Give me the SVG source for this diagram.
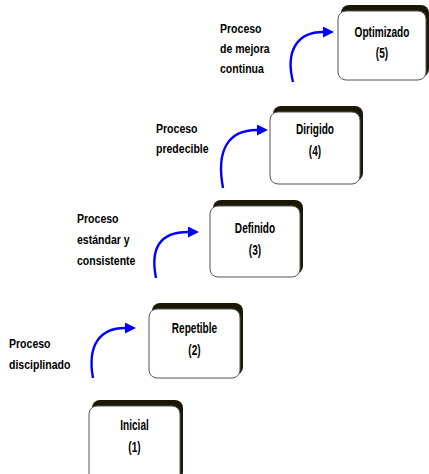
<svg xmlns="http://www.w3.org/2000/svg" width="429" height="474" viewBox="0 0 429 474">
<style>
.sh{fill:#1a1805;}
.bx{fill:#ffffff;stroke:#555555;stroke-width:1;}
.bt{font-family:"Liberation Sans",Arial,sans-serif;font-weight:bold;font-size:14px;fill:#000;text-anchor:middle;}
.lb{font-family:"Liberation Sans",Arial,sans-serif;font-weight:bold;font-size:13.5px;fill:#000;}
.ar{fill:none;stroke:#0000ff;stroke-width:2.4;marker-end:url(#ah);}
</style>
<defs>
<marker id="ah" markerUnits="userSpaceOnUse" markerWidth="11" markerHeight="11" refX="0" refY="5" orient="auto" viewBox="0 0 10 10">
<path d="M0,0 L10,5 L0,10 z" fill="#0000ff"/>
</marker>
</defs>
<rect width="429" height="474" fill="#ffffff"/>
<g id="connectors">
<path class="ar" d="M93,378 C87,345 100,328 125,328"/>
<path class="ar" d="M156,278 C150,248 160,232 188,232"/>
<path class="ar" d="M223,188 C216,150 228,130 257,130"/>
<path class="ar" d="M293,82 C285,50 298,32 323,32"/>
</g>
<g id="node1">
<rect class="sh" x="92" y="400" width="91" height="80" rx="8"/>
<rect class="bx" x="89" y="406" width="91" height="78" rx="8"/>
<text class="bt" transform="translate(134.5,430) scale(0.72,1)"><tspan x="0">Inicial</tspan><tspan x="0" dy="22">(1)</tspan></text>
</g>
<g id="node2">
<rect class="sh" x="152" y="303" width="91" height="72" rx="8"/>
<rect class="bx" x="149" y="309" width="91" height="69" rx="8"/>
<text class="bt" transform="translate(194.5,333) scale(0.72,1)"><tspan x="0">Repetible</tspan><tspan x="0" dy="22">(2)</tspan></text>
</g>
<g id="node3">
<rect class="sh" x="213" y="200" width="90" height="74" rx="8"/>
<rect class="bx" x="210" y="206" width="90" height="71" rx="8"/>
<text class="bt" transform="translate(255,233) scale(0.72,1)"><tspan x="0">Definido</tspan><tspan x="0" dy="22">(3)</tspan></text>
</g>
<g id="node4">
<rect class="sh" x="273" y="106" width="90" height="75" rx="8"/>
<rect class="bx" x="270" y="112" width="90" height="72" rx="8"/>
<text class="bt" transform="translate(315,134) scale(0.72,1)"><tspan x="0">Dirigido</tspan><tspan x="0" dy="22">(4)</tspan></text>
</g>
<g id="node5">
<rect class="sh" x="341" y="5" width="88" height="72" rx="8"/>
<rect class="bx" x="338" y="11" width="88" height="69" rx="8"/>
<text class="bt" transform="translate(382,37) scale(0.72,1)"><tspan x="0">Optimizado</tspan><tspan x="0" dy="21">(5)</tspan></text>
</g>
<g id="label1">
<text class="lb" transform="translate(9,348) scale(0.78,1)"><tspan x="0">Proceso</tspan><tspan x="0" dy="21">disciplinado</tspan></text>
</g>
<g id="label2">
<text class="lb" transform="translate(77,223) scale(0.78,1)"><tspan x="0">Proceso</tspan><tspan x="0" dy="21">estándar y</tspan><tspan x="0" dy="21">consistente</tspan></text>
</g>
<g id="label3">
<text class="lb" transform="translate(156,133) scale(0.78,1)"><tspan x="0">Proceso</tspan><tspan x="0" dy="20">predecible</tspan></text>
</g>
<g id="label4">
<text class="lb" transform="translate(220,33) scale(0.78,1)"><tspan x="0">Proceso</tspan><tspan x="0" dy="20">de mejora</tspan><tspan x="0" dy="20">continua</tspan></text>
</g>
</svg>
